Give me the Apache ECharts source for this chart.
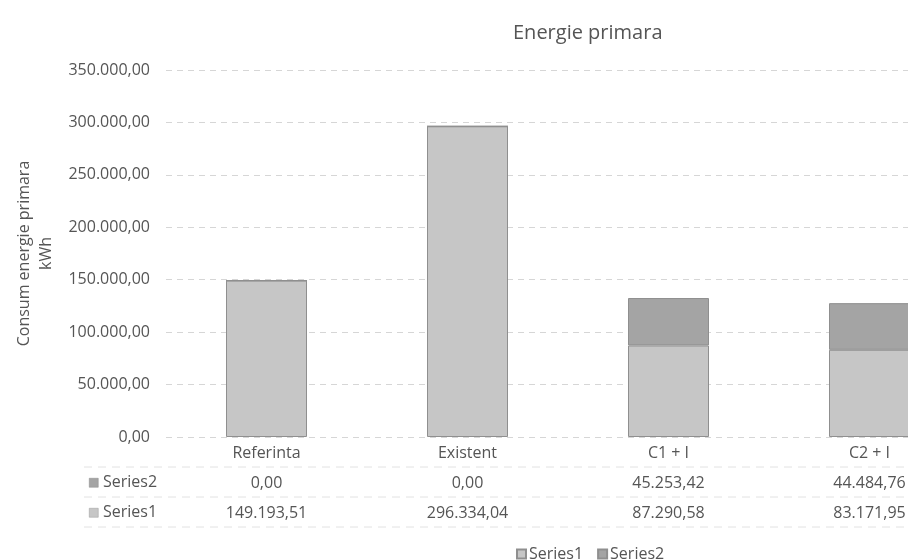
<!DOCTYPE html>
<html>
<head>
<meta charset="utf-8">
<style>
  html, body { margin: 0; padding: 0; background: #fff; }
  #chart { width: 908px; height: 560px; }
</style>
<script src="https://cdn.jsdelivr.net/npm/echarts@6/dist/echarts.min.js"></script>
</head>
<body>
<div id="chart"></div>
<script>
// Primary energy consumption per scenario (kWh)
const categories = ['Referinta', 'Existent', 'C1 + I', 'C2 + I'];
const series1 = [149193.51, 296334.04, 87290.58, 83171.95];
const series2 = [0.00, 0.00, 45253.42, 44484.76];
const seriesNames = ['Series1', 'Series2'];

const FONT = '"Open Sans", "Liberation Sans", sans-serif';
const TEXT = '#555';
const COL1 = '#c6c6c6';
const COL2 = '#a4a4a4';

// Romanian number format: 149.193,51
function fmt(v) {
  const neg = v < 0;
  const parts = Math.abs(v).toFixed(2).split('.');
  const intPart = parts[0].replace(/\B(?=(\d{3})+(?!\d))/g, '.');
  return (neg ? '-' : '') + intPart + ',' + parts[1];
}

const chart = echarts.init(document.getElementById('chart'), null, { renderer: 'canvas' });

// Data-table rows underneath the plot, one hidden-line category axis per row
function tableAxis(values, offset) {
  return {
    type: 'category',
    position: 'bottom',
    offset: offset,
    data: values.map(fmt),
    axisLine: { show: false },
    axisTick: { show: false },
    splitLine: { show: false },
    axisLabel: { color: TEXT, fontFamily: FONT, fontSize: 16, margin: 8, interval: 0 }
  };
}

const option = {
  backgroundColor: '#fff',
  animation: false,
  title: {
    text: 'Energie primara',
    left: 508,
    top: 18,
    textStyle: { color: TEXT, fontFamily: FONT, fontSize: 20, fontWeight: 'normal' }
  },
  legend: {
    data: seriesNames,
    left: 511,
    top: 541,
    itemWidth: 9,
    itemHeight: 9,
    itemGap: 14,
    icon: 'rect',
    textStyle: { color: TEXT, fontFamily: FONT, fontSize: 16, padding: [0, 0, 0, -2] }
  },
  // the plot continues past the right edge of the page
  grid: { left: 166, width: 804, top: 70, height: 367, containLabel: false, outerBoundsMode: 'none' },
  xAxis: [
    {
      type: 'category',
      data: categories,
      axisLine: { show: false },
      axisTick: { show: false },
      axisLabel: { color: TEXT, fontFamily: FONT, fontSize: 16, margin: 8, interval: 0 }
    },
    tableAxis(series2, 30),
    tableAxis(series1, 60)
  ],
  yAxis: {
    type: 'value',
    min: 0,
    max: 350000,
    interval: 50000,
    name: 'Consum energie primara\nkWh',
    nameLocation: 'middle',
    nameGap: 108,
    nameTextStyle: { color: TEXT, fontFamily: FONT, fontSize: 16, lineHeight: 22 },
    axisLine: { show: false },
    axisTick: { show: false },
    axisLabel: { color: TEXT, fontFamily: FONT, fontSize: 16, margin: 16, formatter: fmt },
    splitLine: { lineStyle: { color: '#d6d6d6', type: [6, 5], width: 1 } }
  },
  series: [
    {
      name: 'Series1',
      type: 'bar',
      stack: 'total',
      xAxisIndex: 0,
      barWidth: 81,
      data: series1,
      itemStyle: { color: COL1, borderColor: '#8f8f8f', borderWidth: 1 }
    },
    {
      name: 'Series2',
      type: 'bar',
      stack: 'total',
      xAxisIndex: 0,
      barWidth: 81,
      data: series2,
      itemStyle: { color: COL2, borderColor: '#8f8f8f', borderWidth: 1 }
    }
  ],
  graphic: [
    // row headers of the data table with their series keys
    { type: 'rect', left: 89, top: 478, shape: { width: 9, height: 9 }, style: { fill: COL2, stroke: '#888', lineWidth: 0.5 } },
    { type: 'text', left: 103, top: 474, style: { text: seriesNames[1], fill: TEXT, font: '16px ' + FONT } },
    { type: 'rect', left: 89, top: 508, shape: { width: 9, height: 9 }, style: { fill: COL1, stroke: '#999', lineWidth: 0.5 } },
    { type: 'text', left: 103, top: 504, style: { text: seriesNames[0], fill: TEXT, font: '16px ' + FONT } },
    // faint table rules
    { type: 'line', shape: { x1: 84, y1: 467, x2: 908, y2: 467 }, style: { stroke: '#e2e2e2', lineWidth: 1, lineDash: [8, 6] } },
    { type: 'line', shape: { x1: 84, y1: 497, x2: 908, y2: 497 }, style: { stroke: '#e2e2e2', lineWidth: 1, lineDash: [8, 6] } },
    { type: 'line', shape: { x1: 84, y1: 527, x2: 908, y2: 527 }, style: { stroke: '#e2e2e2', lineWidth: 1, lineDash: [8, 6] } }
  ]
};

chart.setOption(option);
</script>
</body>
</html>
